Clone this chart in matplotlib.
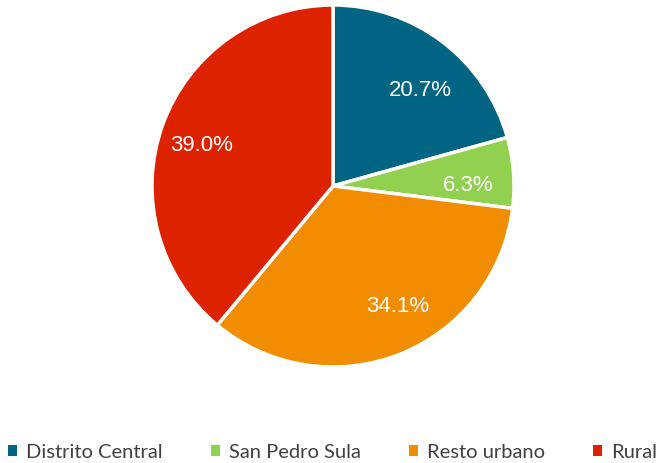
import matplotlib.pyplot as plt
from matplotlib.patches import Patch

categories = ['Distrito Central', 'San Pedro Sula', 'Resto urbano', 'Rural']
shares = [20.7, 6.3, 34.1, 39.0]
colors = ['#006482', '#92D050', '#F28C00', '#DD2200']

W, H = 665, 463
fig = plt.figure(figsize=(W / 100, H / 100), dpi=100)

# pie centre and radius in pixels
cx, cy, r = 333, 186, 181
ax = fig.add_axes([(cx - r) / W, (H - cy - r) / H, 2 * r / W, 2 * r / H])

wedges, texts, autotexts = ax.pie(
    shares, colors=colors, startangle=90, counterclock=False,
    autopct='%1.1f%%', pctdistance=0.75,
    wedgeprops=dict(edgecolor='white', linewidth=2.5),
    textprops=dict(color='white', fontsize=16, family='Liberation Sans'))
ax.set_aspect('equal')
ax.set_xlim(-1, 1)
ax.set_ylim(-1, 1)

# small nudges like the original label placement
nudges = [(0.03, -0.07), (0.0, -0.05), (0.08, 0.03), (-0.02, -0.03)]
for t, (dx, dy) in zip(autotexts, nudges):
    x, y = t.get_position()
    t.set_position((x + dx, y + dy))

handles = [Patch(facecolor=c, edgecolor='none') for c in colors]
fig.legend(handles, categories, loc='center', bbox_to_anchor=(0.5, 1 - 452 / H),
           ncol=4, frameon=False, handlelength=0.45, handleheight=0.45,
           handletextpad=0.45, columnspacing=2.4,
           prop=dict(family='Lato', size=14.5), labelcolor='#404040')

fig.savefig('out.png', dpi=100)
